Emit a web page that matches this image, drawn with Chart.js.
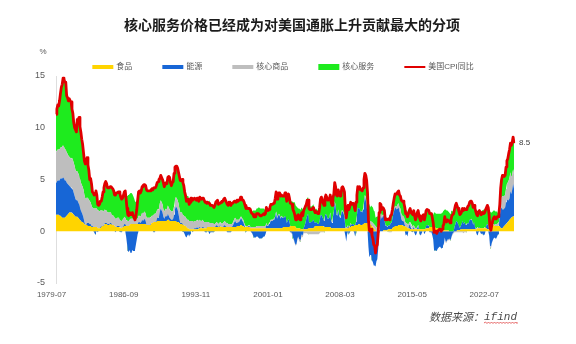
<!DOCTYPE html>
<html>
<head>
<meta charset="utf-8">
<script src="https://cdn.jsdelivr.net/npm/chart.js@4.4.1/dist/chart.umd.min.js"></script>
<style>
  html, body { margin: 0; padding: 0; background: #ffffff; }
  #wrap { width: 576px; height: 344px; }
  canvas { display: block; }
</style>
</head>
<body>
<div id="wrap"><canvas id="chart" width="576" height="344"></canvas></div>
<script>
// US CPI year-on-year (%), monthly from 1979-07 to 2022-07
const cpi = [
  11.3, 11.8, 12.2, 12.1, 12.6, 13.3,
  13.9, 14.2, 14.8, 14.7, 14.4, 14.4, 13.1, 12.9, 12.6, 12.8, 12.6, 12.5,
  11.8, 11.4, 10.5, 10.0, 9.8, 9.6, 10.8, 10.8, 11.0, 10.1, 9.6, 8.9,
  8.4, 7.6, 6.8, 6.5, 6.7, 7.1, 6.4, 5.9, 5.0, 5.1, 4.6, 3.8,
  3.7, 3.5, 3.6, 3.9, 3.5, 2.6, 2.5, 2.6, 2.9, 2.9, 3.3, 3.8,
  4.2, 4.6, 4.8, 4.6, 4.2, 4.2, 4.2, 4.3, 4.3, 4.3, 4.1, 3.9,
  3.5, 3.5, 3.7, 3.7, 3.8, 3.8, 3.6, 3.3, 3.1, 3.2, 3.5, 3.8,
  3.9, 3.1, 2.2, 1.6, 1.5, 1.8, 1.6, 1.6, 1.8, 1.5, 1.3, 1.1,
  1.5, 2.1, 3.0, 3.8, 3.9, 3.7, 3.9, 4.3, 4.4, 4.5, 4.5, 4.4,
  4.0, 3.9, 3.9, 3.9, 3.9, 4.0, 4.1, 4.0, 4.2, 4.2, 4.2, 4.4,
  4.7, 4.8, 5.0, 5.1, 5.4, 5.2, 5.0, 4.7, 4.3, 4.5, 4.7, 4.6,
  5.2, 5.3, 5.2, 4.7, 4.4, 4.7, 4.8, 5.6, 6.2, 6.3, 6.3, 6.1,
  5.7, 5.3, 4.9, 4.9, 5.0, 4.7, 4.4, 3.8, 3.4, 2.9, 3.0, 3.1,
  2.6, 2.8, 3.2, 3.2, 3.0, 3.1, 3.2, 3.1, 3.0, 3.2, 3.0, 2.9,
  3.3, 3.2, 3.1, 3.2, 3.2, 3.0, 2.8, 2.8, 2.7, 2.8, 2.7, 2.7,
  2.5, 2.5, 2.5, 2.4, 2.3, 2.5, 2.8, 2.9, 3.0, 2.6, 2.7, 2.7,
  2.8, 2.9, 2.9, 3.1, 3.2, 3.0, 2.8, 2.6, 2.5, 2.8, 2.6, 2.5,
  2.7, 2.7, 2.8, 2.9, 2.9, 2.8, 3.0, 2.9, 3.0, 3.0, 3.3, 3.3,
  3.0, 3.0, 2.8, 2.5, 2.2, 2.3, 2.2, 2.2, 2.2, 2.1, 1.8, 1.7,
  1.6, 1.4, 1.4, 1.4, 1.7, 1.7, 1.7, 1.6, 1.5, 1.5, 1.5, 1.6,
  1.7, 1.6, 1.7, 2.3, 2.1, 2.0, 2.1, 2.3, 2.6, 2.6, 2.6, 2.7,
  2.7, 3.2, 3.8, 3.1, 3.2, 3.7, 3.7, 3.4, 3.5, 3.4, 3.4, 3.4,
  3.7, 3.5, 2.9, 3.3, 3.6, 3.2, 2.7, 2.7, 2.6, 2.1, 1.9, 1.6,
  1.1, 1.1, 1.5, 1.6, 1.2, 1.1, 1.5, 1.8, 1.5, 2.0, 2.2, 2.4,
  2.6, 3.0, 3.0, 2.2, 2.1, 2.1, 2.1, 2.2, 2.3, 2.0, 1.8, 1.9,
  1.9, 1.7, 1.7, 2.3, 3.1, 3.3, 3.0, 2.7, 2.5, 3.2, 3.5, 3.3,
  3.0, 3.0, 3.1, 3.5, 2.8, 2.5, 3.2, 3.6, 4.7, 4.3, 3.5, 3.4,
  4.0, 3.6, 3.4, 3.5, 4.2, 4.3, 4.1, 3.8, 2.1, 1.3, 2.0, 2.5,
  2.1, 2.4, 2.8, 2.6, 2.7, 2.7, 2.4, 2.0, 2.8, 3.5, 4.3, 4.1,
  4.3, 4.0, 4.0, 3.9, 4.2, 5.0, 5.6, 5.4, 4.9, 3.7, 1.1, 0.1,
  0.0, 0.2, -0.4, -0.7, -1.3, -1.4, -2.1, -1.5, -1.3, -0.2, 1.8, 2.7,
  2.6, 2.1, 2.3, 2.2, 2.0, 1.1, 1.2, 1.1, 1.1, 1.2, 1.1, 1.5,
  1.6, 2.1, 2.7, 3.2, 3.6, 3.6, 3.6, 3.8, 3.9, 3.5, 3.4, 3.0,
  2.9, 2.9, 2.7, 2.3, 1.7, 1.7, 1.4, 1.7, 2.0, 2.2, 1.8, 1.7,
  1.6, 2.0, 1.5, 1.1, 1.4, 1.8, 2.0, 1.5, 1.2, 1.0, 1.2, 1.5,
  1.6, 1.1, 1.5, 2.0, 2.1, 2.1, 2.0, 1.7, 1.7, 1.7, 1.3, 0.8,
  -0.1, 0.0, -0.1, -0.2, 0.0, 0.1, 0.2, 0.2, 0.0, 0.2, 0.5, 0.7,
  1.4, 1.0, 0.9, 1.1, 1.0, 1.0, 0.8, 1.1, 1.5, 1.6, 1.7, 2.1,
  2.5, 2.7, 2.4, 2.2, 1.9, 1.6, 1.7, 1.9, 2.2, 2.0, 2.2, 2.1,
  2.1, 2.2, 2.4, 2.5, 2.8, 2.9, 2.9, 2.7, 2.3, 2.5, 2.2, 1.9,
  1.6, 1.5, 1.9, 2.0, 1.8, 1.6, 1.8, 1.7, 1.7, 1.8, 2.1, 2.3,
  2.5, 2.3, 1.5, 0.3, 0.1, 0.6, 1.0, 1.3, 1.4, 1.2, 1.2, 1.4,
  1.4, 1.7, 2.6, 4.2, 5.0, 5.4, 5.4, 5.3, 5.4, 6.2, 6.8, 7.0,
  7.5, 7.9, 8.5, 8.3, 8.6, 9.1, 8.5
];

// Contribution of food (percentage points)
const food = [
  1.6, 1.6, 1.6, 1.6, 1.5, 1.5,
  1.4, 1.3, 1.3, 1.3, 1.3, 1.4, 1.5, 1.6, 1.7, 1.8, 1.8, 1.8,
  1.8, 1.7, 1.6, 1.5, 1.4, 1.4, 1.4, 1.3, 1.2, 1.1, 1.0, 0.9,
  0.9, 0.8, 0.7, 0.6, 0.6, 0.6, 0.5, 0.5, 0.5, 0.5, 0.4, 0.4,
  0.4, 0.4, 0.4, 0.4, 0.4, 0.3, 0.3, 0.3, 0.3, 0.4, 0.5, 0.5,
  0.6, 0.7, 0.7, 0.7, 0.6, 0.6, 0.6, 0.7, 0.7, 0.6, 0.6, 0.6,
  0.5, 0.4, 0.4, 0.4, 0.4, 0.4, 0.4, 0.3, 0.3, 0.4, 0.4, 0.5,
  0.5, 0.5, 0.5, 0.5, 0.5, 0.6, 0.7, 0.7, 0.7, 0.7, 0.7, 0.7,
  0.7, 0.7, 0.7, 0.7, 0.7, 0.7, 0.7, 0.7, 0.7, 0.7, 0.7, 0.7,
  0.6, 0.6, 0.6, 0.6, 0.6, 0.7, 0.8, 0.8, 0.9, 0.9, 0.9, 0.9,
  1.0, 1.0, 1.0, 1.0, 1.0, 1.0, 1.0, 1.0, 1.0, 1.0, 1.0, 1.0,
  1.1, 1.1, 1.0, 1.0, 1.0, 1.0, 1.0, 1.0, 1.0, 1.0, 0.9, 0.9,
  0.9, 0.8, 0.7, 0.7, 0.7, 0.6, 0.6, 0.5, 0.5, 0.4, 0.3, 0.3,
  0.2, 0.2, 0.2, 0.2, 0.2, 0.2, 0.2, 0.2, 0.2, 0.2, 0.2, 0.3,
  0.3, 0.3, 0.3, 0.3, 0.3, 0.3, 0.3, 0.3, 0.4, 0.4, 0.4, 0.4,
  0.4, 0.4, 0.4, 0.4, 0.4, 0.4, 0.4, 0.4, 0.4, 0.4, 0.4, 0.5,
  0.4, 0.4, 0.4, 0.4, 0.4, 0.4, 0.4, 0.4, 0.4, 0.4, 0.4, 0.4,
  0.4, 0.4, 0.4, 0.4, 0.4, 0.4, 0.5, 0.5, 0.5, 0.5, 0.6, 0.6,
  0.5, 0.5, 0.4, 0.4, 0.4, 0.4, 0.4, 0.4, 0.4, 0.3, 0.3, 0.3,
  0.3, 0.3, 0.3, 0.3, 0.3, 0.3, 0.3, 0.3, 0.3, 0.3, 0.3, 0.3,
  0.3, 0.3, 0.3, 0.3, 0.3, 0.3, 0.3, 0.3, 0.3, 0.3, 0.3, 0.3,
  0.3, 0.3, 0.3, 0.3, 0.3, 0.3, 0.3, 0.3, 0.3, 0.3, 0.4, 0.4,
  0.4, 0.4, 0.4, 0.4, 0.4, 0.4, 0.5, 0.5, 0.5, 0.5, 0.5, 0.5,
  0.4, 0.3, 0.3, 0.3, 0.3, 0.3, 0.2, 0.2, 0.2, 0.2, 0.2, 0.2,
  0.2, 0.2, 0.3, 0.3, 0.3, 0.3, 0.3, 0.3, 0.3, 0.4, 0.5, 0.5,
  0.5, 0.5, 0.5, 0.5, 0.5, 0.5, 0.5, 0.5, 0.4, 0.4, 0.4, 0.4,
  0.4, 0.4, 0.4, 0.4, 0.3, 0.3, 0.3, 0.3, 0.3, 0.3, 0.3, 0.3,
  0.3, 0.3, 0.3, 0.3, 0.3, 0.3, 0.3, 0.3, 0.3, 0.3, 0.3, 0.3,
  0.3, 0.4, 0.4, 0.5, 0.5, 0.5, 0.5, 0.6, 0.6, 0.6, 0.6, 0.7,
  0.7, 0.6, 0.6, 0.6, 0.7, 0.7, 0.8, 0.8, 0.8, 0.8, 0.8, 0.8,
  0.7, 0.6, 0.5, 0.4, 0.3, 0.2, 0.1, 0.0, 0.0, -0.1, -0.1, 0.0,
  0.0, 0.0, 0.0, 0.1, 0.1, 0.1, 0.1, 0.1, 0.2, 0.2, 0.2, 0.2,
  0.2, 0.3, 0.4, 0.4, 0.5, 0.5, 0.5, 0.5, 0.6, 0.6, 0.6, 0.6,
  0.6, 0.5, 0.5, 0.5, 0.4, 0.4, 0.3, 0.3, 0.3, 0.2, 0.2, 0.2,
  0.2, 0.2, 0.2, 0.2, 0.2, 0.2, 0.2, 0.2, 0.2, 0.2, 0.2, 0.2,
  0.2, 0.2, 0.2, 0.3, 0.3, 0.3, 0.3, 0.4, 0.4, 0.4, 0.4, 0.4,
  0.4, 0.4, 0.3, 0.3, 0.3, 0.3, 0.2, 0.2, 0.2, 0.2, 0.2, 0.1,
  0.1, 0.1, 0.1, 0.1, 0.1, 0.0, 0.0, 0.0, 0.0, 0.0, 0.0, 0.0,
  0.0, 0.0, 0.1, 0.1, 0.1, 0.1, 0.2, 0.2, 0.2, 0.2, 0.2, 0.2,
  0.2, 0.2, 0.2, 0.2, 0.2, 0.2, 0.2, 0.2, 0.2, 0.2, 0.2, 0.2,
  0.2, 0.3, 0.3, 0.3, 0.3, 0.3, 0.3, 0.3, 0.3, 0.3, 0.3, 0.3,
  0.2, 0.2, 0.2, 0.5, 0.6, 0.6, 0.6, 0.6, 0.5, 0.5, 0.5, 0.5,
  0.5, 0.5, 0.5, 0.3, 0.3, 0.3, 0.4, 0.5, 0.6, 0.7, 0.8, 0.9,
  1.0, 1.1, 1.2, 1.3, 1.4, 1.4, 1.5
];

// Contribution of energy (percentage points)
const energy = [
  3.1, 3.2, 3.3, 3.3, 3.4, 3.6,
  3.7, 3.8, 3.9, 3.8, 3.6, 3.5, 3.2, 3.0, 2.8, 2.6, 2.5, 2.4,
  2.4, 2.3, 2.1, 1.9, 1.7, 1.6, 1.6, 1.5, 1.4, 1.2, 1.0, 0.9,
  0.7, 0.5, 0.2, 0.0, 0.0, 0.2, 0.3, 0.3, 0.2, 0.2, 0.1, 0.1,
  0.0, -0.1, -0.3, -0.1, 0.0, -0.1, 0.0, 0.0, 0.1, 0.1, 0.0, 0.0,
  0.0, 0.1, 0.1, 0.1, 0.1, 0.1, 0.1, 0.1, 0.1, 0.0, 0.0, 0.0,
  0.0, -0.1, 0.0, 0.1, 0.1, 0.1, 0.0, -0.1, -0.1, 0.0, 0.1, 0.2,
  0.2, -0.5, -1.2, -1.9, -2.0, -1.8, -2.1, -2.1, -1.8, -1.9, -1.9, -1.8,
  -1.3, -0.8, -0.3, 0.2, 0.2, 0.1, 0.2, 0.4, 0.3, 0.4, 0.5, 0.3,
  0.0, 0.0, 0.0, 0.0, 0.0, 0.0, 0.0, 0.0, -0.1, -0.1, 0.0, 0.1,
  0.3, 0.3, 0.4, 0.9, 1.2, 1.0, 0.8, 0.4, 0.2, 0.4, 0.5, 0.4,
  0.6, 0.4, 0.3, 0.2, 0.1, 0.1, 0.2, 0.6, 1.1, 1.4, 1.4, 1.2,
  0.8, 0.4, 0.1, 0.1, 0.1, 0.0, -0.1, -0.3, -0.5, -0.6, -0.4, -0.3,
  -0.5, -0.3, 0.0, 0.0, -0.1, 0.0, 0.1, 0.1, 0.1, 0.2, 0.1, 0.0,
  0.1, 0.0, 0.0, 0.1, 0.1, 0.0, -0.1, -0.1, -0.1, 0.0, -0.1, -0.3,
  -0.1, -0.1, -0.1, -0.1, -0.1, 0.0, 0.1, 0.2, 0.1, 0.0, 0.1, 0.1,
  0.0, 0.0, 0.0, 0.1, 0.2, 0.1, 0.0, -0.1, -0.1, -0.1, -0.1, -0.1,
  0.0, 0.1, 0.3, 0.5, 0.6, 0.4, 0.3, 0.3, 0.4, 0.5, 0.6, 0.6,
  0.5, 0.4, 0.2, 0.0, -0.1, 0.0, 0.0, 0.1, 0.1, 0.0, -0.1, -0.2,
  -0.4, -0.6, -0.6, -0.6, -0.5, -0.5, -0.6, -0.7, -0.7, -0.7, -0.7, -0.6,
  -0.5, -0.5, -0.3, 0.3, 0.2, 0.2, 0.4, 0.5, 0.7, 0.7, 0.7, 0.8,
  0.8, 1.1, 1.5, 0.9, 0.9, 1.3, 1.2, 0.9, 1.1, 1.0, 0.9, 0.9,
  1.1, 0.9, 0.4, 0.6, 0.8, 0.5, -0.1, -0.1, -0.2, -0.6, -0.8, -1.1,
  -1.3, -1.2, -0.7, -0.5, -0.8, -0.8, -0.5, -0.3, -0.4, 0.1, 0.3, 0.6,
  1.0, 1.3, 1.4, 0.6, 0.5, 0.6, 0.6, 0.7, 0.8, 0.5, 0.3, 0.4,
  0.3, 0.2, 0.2, 0.5, 1.0, 1.1, 0.9, 0.7, 0.6, 1.1, 1.3, 1.1,
  0.8, 0.8, 0.9, 1.3, 0.7, 0.5, 1.1, 1.5, 2.5, 2.1, 1.3, 1.2,
  1.7, 1.2, 1.0, 1.2, 1.6, 1.6, 1.4, 1.1, -0.4, -1.0, -0.3, 0.2,
  -0.3, -0.1, 0.3, 0.1, 0.2, 0.2, -0.1, -0.5, 0.3, 0.9, 1.7, 1.5,
  1.5, 1.3, 1.3, 1.2, 1.4, 2.0, 2.5, 2.2, 1.7, 0.6, -1.5, -2.5,
  -2.3, -2.3, -2.8, -3.0, -3.3, -3.3, -3.4, -2.9, -2.7, -1.6, 0.1, 1.0,
  1.5, 1.2, 1.4, 1.4, 1.2, 0.4, 0.5, 0.3, 0.3, 0.4, 0.3, 0.6,
  0.6, 0.9, 1.3, 1.6, 1.8, 1.7, 1.6, 1.7, 1.7, 1.3, 1.1, 0.6,
  0.4, 0.5, 0.4, 0.1, -0.4, -0.3, -0.5, 0.0, 0.3, 0.4, 0.1, 0.1,
  -0.1, 0.2, -0.2, -0.4, -0.3, 0.1, 0.3, 0.0, -0.3, -0.4, -0.2, 0.0,
  0.0, -0.3, -0.1, 0.2, 0.3, 0.3, 0.2, -0.1, -0.1, -0.1, -0.4, -0.8,
  -1.9, -1.8, -1.8, -1.9, -1.7, -1.6, -1.5, -1.5, -1.7, -1.6, -1.4, -1.2,
  -0.6, -1.0, -1.0, -0.8, -0.8, -0.7, -0.8, -0.7, -0.4, -0.2, -0.1, 0.4,
  0.7, 1.0, 0.8, 0.6, 0.4, 0.2, 0.3, 0.5, 0.8, 0.5, 0.7, 0.5,
  0.4, 0.6, 0.5, 0.6, 0.9, 0.9, 0.9, 0.8, 0.4, 0.7, 0.2, 0.0,
  -0.3, -0.4, -0.1, 0.1, -0.1, -0.3, -0.2, -0.3, -0.4, -0.3, 0.0, 0.3,
  0.5, 0.3, -0.4, -1.4, -1.5, -1.1, -0.9, -0.7, -0.6, -0.7, -0.7, -0.5,
  -0.3, 0.1, 1.0, 1.8, 2.0, 1.8, 1.7, 1.7, 1.7, 2.1, 2.3, 2.1,
  2.0, 2.1, 2.7, 2.3, 2.6, 3.2, 2.6
];

// Contribution of core goods (percentage points)
const coreGoods = [
  3.0, 3.0, 3.0, 3.0, 3.0, 3.0,
  3.0, 3.1, 3.1, 3.1, 3.0, 3.0, 2.9, 2.9, 2.8, 2.8, 2.8, 2.8,
  2.9, 2.9, 2.9, 2.9, 2.8, 2.8, 2.8, 2.8, 2.8, 2.8, 2.7, 2.7,
  2.7, 2.7, 2.6, 2.6, 2.5, 2.5, 2.4, 2.3, 2.2, 2.1, 2.0, 1.8,
  1.8, 1.8, 1.8, 1.8, 1.8, 1.7, 1.7, 1.6, 1.6, 1.5, 1.5, 1.4,
  1.3, 1.3, 1.2, 1.2, 1.1, 1.1, 1.1, 1.0, 1.0, 1.0, 0.9, 0.9,
  0.8, 0.8, 0.8, 0.8, 0.8, 0.8, 0.7, 0.7, 0.7, 0.7, 0.7, 0.7,
  0.6, 0.6, 0.5, 0.5, 0.5, 0.5, 0.5, 0.5, 0.5, 0.5, 0.4, 0.4,
  0.4, 0.5, 0.5, 0.6, 0.6, 0.6, 0.6, 0.7, 0.7, 0.7, 0.7, 0.7,
  0.7, 0.7, 0.7, 0.7, 0.7, 0.7, 0.7, 0.7, 0.7, 0.8, 0.8, 0.8,
  0.8, 0.8, 0.8, 0.8, 0.8, 0.8, 0.8, 0.7, 0.7, 0.7, 0.7, 0.7,
  0.8, 0.8, 0.8, 0.8, 0.8, 0.8, 0.8, 0.8, 0.9, 0.9, 0.9, 0.9,
  1.0, 1.0, 1.0, 1.0, 1.0, 1.0, 0.9, 0.9, 0.9, 0.8, 0.8, 0.8,
  0.8, 0.8, 0.8, 0.8, 0.8, 0.7, 0.7, 0.7, 0.7, 0.7, 0.7, 0.7,
  0.7, 0.7, 0.7, 0.7, 0.6, 0.6, 0.6, 0.6, 0.5, 0.5, 0.5, 0.4,
  0.4, 0.4, 0.4, 0.4, 0.3, 0.3, 0.3, 0.3, 0.3, 0.3, 0.3, 0.3,
  0.3, 0.3, 0.4, 0.4, 0.4, 0.4, 0.4, 0.4, 0.3, 0.3, 0.3, 0.3,
  0.3, 0.3, 0.3, 0.3, 0.3, 0.3, 0.3, 0.3, 0.2, 0.2, 0.2, 0.2,
  0.2, 0.2, 0.2, 0.2, 0.1, 0.1, 0.1, 0.1, 0.1, 0.1, 0.1, 0.1,
  0.1, 0.1, 0.1, 0.1, 0.2, 0.2, 0.2, 0.2, 0.2, 0.2, 0.2, 0.2,
  0.2, 0.2, 0.2, 0.2, 0.1, 0.1, 0.1, 0.1, 0.1, 0.1, 0.1, 0.1,
  0.1, 0.1, 0.1, 0.1, 0.1, 0.1, 0.1, 0.1, 0.1, 0.1, 0.0, 0.0,
  0.0, 0.0, 0.0, 0.0, 0.0, 0.0, 0.0, -0.1, -0.1, -0.1, -0.1, -0.1,
  -0.1, -0.1, -0.1, -0.1, -0.2, -0.2, -0.2, -0.2, -0.2, -0.2, -0.2, -0.2,
  -0.2, -0.2, -0.3, -0.3, -0.3, -0.3, -0.3, -0.3, -0.3, -0.3, -0.3, -0.3,
  -0.3, -0.3, -0.3, -0.2, -0.1, -0.1, -0.1, -0.1, -0.1, 0.0, 0.0, 0.0,
  0.0, 0.0, 0.0, 0.1, 0.1, 0.1, 0.1, 0.1, 0.1, 0.1, 0.1, 0.1,
  0.1, 0.1, 0.1, 0.1, 0.1, 0.1, 0.1, 0.1, 0.1, 0.1, 0.1, 0.1,
  0.1, 0.1, 0.1, 0.0, 0.0, 0.0, 0.0, 0.0, 0.0, 0.0, 0.0, 0.0,
  0.0, 0.0, 0.0, 0.1, 0.1, 0.2, 0.2, 0.3, 0.3, 0.3, 0.3, 0.3,
  0.3, 0.4, 0.4, 0.4, 0.4, 0.4, 0.4, 0.4, 0.4, 0.4, 0.3, 0.3,
  0.3, 0.2, 0.2, 0.1, 0.1, 0.1, 0.0, 0.0, 0.0, -0.1, -0.1, -0.1,
  -0.1, 0.0, 0.0, 0.1, 0.2, 0.2, 0.3, 0.4, 0.4, 0.4, 0.5, 0.5,
  0.5, 0.5, 0.5, 0.4, 0.4, 0.4, 0.4, 0.3, 0.3, 0.3, 0.3, 0.3,
  0.2, 0.2, 0.2, 0.1, 0.1, 0.1, 0.1, 0.1, 0.0, 0.0, 0.0, 0.0,
  0.0, 0.0, 0.0, 0.0, 0.0, 0.0, 0.0, 0.0, 0.0, 0.0, 0.0, 0.0,
  0.0, 0.0, 0.0, 0.0, 0.0, 0.0, 0.0, 0.0, 0.0, 0.0, 0.0, -0.1,
  -0.1, -0.1, -0.1, -0.1, -0.1, -0.1, -0.1, -0.1, -0.1, -0.1, -0.1, -0.1,
  -0.1, -0.1, -0.1, -0.1, -0.1, -0.1, -0.1, -0.1, -0.1, -0.2, -0.1, -0.1,
  -0.1, 0.0, 0.0, 0.0, 0.0, 0.0, 0.1, 0.0, 0.0, 0.0, 0.0, 0.1,
  0.1, 0.1, 0.0, 0.0, 0.0, 0.0, 0.0, 0.0, 0.0, 0.1, 0.0, 0.0,
  0.0, 0.0, 0.0, -0.2, -0.2, -0.1, 0.0, 0.1, 0.1, 0.2, 0.2, 0.2,
  0.3, 0.3, 0.3, 0.6, 1.0, 1.3, 1.3, 1.2, 1.2, 1.3, 1.5, 1.7,
  1.9, 2.0, 1.8, 1.6, 1.5, 1.4, 1.4
];

// Contribution of core services (percentage points)
const coreServices = [
  3.6, 4.0, 4.3, 4.2, 4.7, 5.2,
  5.8, 6.0, 6.5, 6.5, 6.5, 6.5, 5.5, 5.4, 5.3, 5.6, 5.5, 5.5,
  4.7, 4.5, 3.9, 3.7, 3.9, 3.8, 5.0, 5.2, 5.6, 5.0, 4.9, 4.4,
  4.1, 3.6, 3.3, 3.3, 3.6, 3.8, 3.2, 2.8, 2.1, 2.3, 2.1, 1.5,
  1.5, 1.4, 1.7, 1.8, 1.3, 0.7, 0.5, 0.7, 0.9, 0.9, 1.3, 1.9,
  2.3, 2.5, 2.8, 2.6, 2.4, 2.4, 2.4, 2.5, 2.5, 2.7, 2.6, 2.4,
  2.2, 2.4, 2.5, 2.4, 2.5, 2.5, 2.5, 2.4, 2.2, 2.1, 2.3, 2.4,
  2.6, 2.5, 2.4, 2.5, 2.5, 2.5, 2.5, 2.5, 2.4, 2.2, 2.1, 1.8,
  1.7, 1.7, 2.1, 2.3, 2.4, 2.3, 2.4, 2.5, 2.7, 2.7, 2.6, 2.7,
  2.7, 2.6, 2.6, 2.6, 2.6, 2.6, 2.6, 2.5, 2.7, 2.6, 2.5, 2.6,
  2.6, 2.7, 2.8, 2.4, 2.4, 2.4, 2.4, 2.6, 2.4, 2.4, 2.5, 2.5,
  2.7, 3.0, 3.1, 2.7, 2.5, 2.8, 2.8, 3.2, 3.2, 3.0, 3.1, 3.1,
  3.0, 3.1, 3.1, 3.1, 3.2, 3.1, 3.0, 2.7, 2.5, 2.3, 2.3, 2.3,
  2.1, 2.1, 2.2, 2.2, 2.1, 2.2, 2.2, 2.1, 2.0, 2.1, 2.0, 1.9,
  2.2, 2.2, 2.1, 2.1, 2.2, 2.1, 2.0, 2.0, 1.9, 1.9, 1.9, 2.2,
  1.8, 1.8, 1.8, 1.7, 1.7, 1.8, 2.0, 2.0, 2.2, 1.9, 1.9, 1.8,
  2.1, 2.2, 2.1, 2.2, 2.2, 2.1, 2.0, 1.9, 1.9, 2.2, 2.0, 1.9,
  2.0, 1.9, 1.8, 1.7, 1.6, 1.7, 1.9, 1.8, 1.9, 1.8, 1.9, 1.9,
  1.8, 1.9, 2.0, 1.9, 1.8, 1.8, 1.7, 1.6, 1.6, 1.7, 1.5, 1.5,
  1.6, 1.6, 1.6, 1.6, 1.7, 1.7, 1.8, 1.8, 1.7, 1.7, 1.7, 1.7,
  1.7, 1.6, 1.5, 1.5, 1.5, 1.4, 1.3, 1.4, 1.5, 1.5, 1.5, 1.5,
  1.5, 1.7, 1.9, 1.8, 1.9, 2.0, 2.1, 2.1, 2.0, 2.0, 2.1, 2.1,
  2.2, 2.2, 2.1, 2.3, 2.4, 2.3, 2.3, 2.4, 2.4, 2.3, 2.3, 2.3,
  2.1, 2.1, 2.0, 1.9, 1.9, 1.8, 2.0, 2.1, 1.9, 1.9, 1.9, 1.8,
  1.6, 1.7, 1.6, 1.6, 1.6, 1.5, 1.5, 1.5, 1.5, 1.4, 1.3, 1.3,
  1.4, 1.3, 1.3, 1.5, 1.7, 1.8, 1.7, 1.6, 1.6, 1.7, 1.8, 1.8,
  1.8, 1.8, 1.8, 1.7, 1.7, 1.6, 1.7, 1.7, 1.8, 1.8, 1.8, 1.8,
  1.9, 2.0, 2.0, 1.9, 2.2, 2.3, 2.3, 2.3, 2.1, 1.9, 1.9, 1.9,
  2.0, 2.0, 2.0, 2.0, 2.0, 2.0, 2.0, 1.9, 1.9, 2.0, 2.0, 1.9,
  2.1, 2.1, 2.1, 2.0, 2.0, 2.1, 2.1, 2.1, 2.1, 2.0, 1.5, 1.5,
  1.3, 1.5, 1.5, 1.5, 1.3, 1.3, 0.8, 1.0, 1.0, 1.1, 1.5, 1.4,
  0.8, 0.7, 0.7, 0.6, 0.6, 0.5, 0.6, 0.7, 0.6, 0.7, 0.7, 0.8,
  0.9, 0.9, 1.0, 1.1, 1.1, 1.2, 1.2, 1.2, 1.2, 1.2, 1.2, 1.3,
  1.4, 1.4, 1.3, 1.3, 1.3, 1.2, 1.2, 1.1, 1.1, 1.3, 1.2, 1.1,
  1.3, 1.4, 1.3, 1.2, 1.4, 1.4, 1.4, 1.2, 1.3, 1.2, 1.2, 1.3,
  1.4, 1.2, 1.4, 1.5, 1.5, 1.5, 1.5, 1.4, 1.4, 1.4, 1.3, 1.2,
  1.4, 1.4, 1.4, 1.4, 1.4, 1.4, 1.5, 1.5, 1.5, 1.6, 1.7, 1.9,
  2.0, 2.0, 1.9, 1.9, 1.8, 1.8, 1.7, 1.9, 2.0, 1.9, 1.9, 1.8,
  1.9, 1.8, 1.6, 1.6, 1.5, 1.4, 1.3, 1.3, 1.3, 1.5, 1.4, 1.5,
  1.6, 1.4, 1.7, 1.7, 1.7, 1.8, 1.7, 1.7, 1.7, 1.6, 1.8, 1.6,
  1.6, 1.5, 1.7, 1.6, 1.6, 1.6, 1.7, 1.7, 1.8, 1.7, 1.8, 1.7,
  1.8, 1.8, 1.7, 1.4, 1.2, 1.2, 1.3, 1.3, 1.4, 1.2, 1.2, 1.2,
  0.9, 0.8, 0.8, 1.5, 1.7, 2.0, 2.0, 1.9, 1.9, 2.1, 2.2, 2.3,
  2.6, 2.7, 2.8, 3.1, 3.1, 3.1, 3.0
];

// Tick labels shown under the time axis
const xTickLabels = ['1979-07', '1986-09', '1993-11', '2001-01', '2008-03', '2015-05', '2022-07'];
const yTickValues = [-5, 0, 5, 10, 15];

const TITLE = '核心服务价格已经成为对美国通胀上升贡献最大的分项';
const CPI_NAME = '美国CPI同比';
const SOURCE_LABEL = '数据来源：';
const SOURCE_NAME = 'ifind';

// Month labels for every observation
const START_YEAR = 1979, START_MONTH = 7;
const months = cpi.map((_, i) => {
  const m = START_MONTH - 1 + i;
  const y = START_YEAR + Math.floor(m / 12);
  return y + '-' + String((m % 12) + 1).padStart(2, '0');
});

const SERIES = [
  { name: '食品', values: food, color: '#FFD400', swatch: 4 },
  { name: '能源', values: energy, color: '#1766D6', swatch: 4 },
  { name: '核心商品', values: coreGoods, color: '#BEBEBE', swatch: 4 },
  { name: '核心服务', values: coreServices, color: '#1EEB1E', swatch: 6 }
];
const CPI_COLOR = '#E00000';

// Positive parts stack upward from zero, negative parts stack downward
function areaSet(side) {
  return SERIES.map((s, k) => ({
    label: s.name,
    data: s.values.map(v => side === 'up' ? Math.max(v, 0) : Math.min(v, 0)),
    stack: side,
    fill: k === 0 ? 'origin' : '-1',
    backgroundColor: s.color,
    borderColor: 'rgba(0,0,0,0)',
    borderWidth: 0,
    pointRadius: 0,
    pointHoverRadius: 0,
    order: 1
  }));
}

const datasets = [
  ...areaSet('up'),
  ...areaSet('down'),
  {
    label: CPI_NAME,
    data: cpi,
    stack: 'cpi',
    fill: false,
    borderColor: CPI_COLOR,
    borderWidth: 2.8,
    borderJoinStyle: 'round',
    pointRadius: 0,
    pointHoverRadius: 0,
    order: 0
  }
];

// Axis labels sit on an even spacing along the time axis
const LABEL_FIRST = -5;
const LABEL_STEP = 81.25;

const FONT_LATIN = '"Liberation Sans", Arial, sans-serif';
const FONT_CJK = '"Liberation Sans", "Noto Sans CJK SC", sans-serif';
const TEXT_GREY = '#595959';

const decorations = {
  id: 'decorations',
  afterDraw(chart) {
    const { ctx, scales } = chart;
    ctx.save();

    // Title
    ctx.fillStyle = '#1b1b1b';
    ctx.font = '600 14px "Noto Sans CJK SC", sans-serif';
    ctx.textAlign = 'center';
    ctx.textBaseline = 'middle';
    ctx.fillText(TITLE, 292, 25);

    // Unit above the value axis
    ctx.fillStyle = TEXT_GREY;
    ctx.font = '8px ' + FONT_LATIN;
    ctx.fillText('%', 43, 52);

    // Legend row
    const items = SERIES.map(s => ({ name: s.name, color: s.color, lw: s.swatch }))
      .concat([{ name: CPI_NAME, color: CPI_COLOR, lw: 2 }]);
    ctx.font = '8px ' + FONT_CJK;
    const SW = 21, GAP_IN = 3, GAP_OUT = 30;
    const widths = items.map(it => SW + GAP_IN + ctx.measureText(it.name).width);
    const total = widths.reduce((a, b) => a + b, 0) + GAP_OUT * (items.length - 1);
    let lx = 283 - total / 2;
    const ly = 67;
    ctx.textAlign = 'left';
    items.forEach((it, k) => {
      ctx.strokeStyle = it.color;
      ctx.lineWidth = it.lw;
      ctx.beginPath();
      ctx.moveTo(lx, ly);
      ctx.lineTo(lx + SW, ly);
      ctx.stroke();
      ctx.fillStyle = TEXT_GREY;
      ctx.fillText(it.name, lx + SW + GAP_IN, ly);
      lx += widths[k] + GAP_OUT;
    });

    // Latest reading next to the end of the CPI line
    const last = cpi.length - 1;
    const ex = scales.x.getPixelForValue(last) + 5;
    const ey = scales.y.getPixelForValue(cpi[last]);
    ctx.fillStyle = '#404040';
    ctx.font = '8px ' + FONT_LATIN;
    ctx.textAlign = 'left';
    ctx.fillText(cpi[last].toFixed(1), ex, ey);

    // Source note
    const fontA = 'italic 11px "Noto Sans CJK SC", sans-serif';
    const fontB = 'italic 11px "Liberation Mono", monospace';
    ctx.font = fontA;
    const wA = ctx.measureText(SOURCE_LABEL).width;
    ctx.font = fontB;
    const wB = ctx.measureText(SOURCE_NAME).width;
    const right = 517, sy = 317;
    const sx = right - wA - wB;
    ctx.fillStyle = '#4a4a4a';
    ctx.font = fontA;
    ctx.fillText(SOURCE_LABEL, sx, sy);
    ctx.font = fontB;
    ctx.fillText(SOURCE_NAME, sx + wA, sy);
    // wavy underline under the product name
    ctx.strokeStyle = '#E04040';
    ctx.lineWidth = 0.8;
    ctx.beginPath();
    let ux = sx + wA;
    ctx.moveTo(ux, sy + 6);
    let up = true;
    while (ux < right) {
      ux += 1.5;
      ctx.lineTo(Math.min(ux, right), sy + (up ? 5 : 6.5));
      up = !up;
    }
    ctx.stroke();

    ctx.restore();
  }
};

new Chart(document.getElementById('chart'), {
  type: 'line',
  data: { labels: months, datasets },
  options: {
    responsive: false,
    animation: false,
    devicePixelRatio: 1,
    events: [],
    layout: { padding: { left: 10, right: 62, top: 76, bottom: 41 } },
    plugins: {
      legend: { display: false },
      title: { display: false },
      tooltip: { enabled: false }
    },
    elements: { line: { tension: 0 } },
    scales: {
      x: {
        type: 'category',
        offset: false,
        grid: { display: false, drawTicks: false },
        border: { display: false },
        ticks: {
          autoSkip: false,
          maxRotation: 0,
          minRotation: 0,
          padding: 7,
          color: TEXT_GREY,
          font: { family: FONT_LATIN, size: 8 },
          callback: (v, i) => xTickLabels[i]
        },
        afterBuildTicks: scale => {
          scale.ticks = xTickLabels.map((_, k) => ({ value: LABEL_FIRST + k * LABEL_STEP }));
        },
        afterFit: scale => { scale.height = 20; }
      },
      y: {
        stacked: true,
        min: -5,
        max: 15,
        grid: { display: false, drawTicks: false },
        border: { display: true, color: '#DEDEDE', width: 1 },
        ticks: {
          padding: 11,
          color: TEXT_GREY,
          font: { family: FONT_LATIN, size: 9 }
        },
        afterBuildTicks: scale => {
          scale.ticks = yTickValues.map(v => ({ value: v }));
        },
        afterFit: scale => { scale.width = 46; }
      }
    }
  },
  plugins: [decorations]
});
</script>
</body>
</html>
